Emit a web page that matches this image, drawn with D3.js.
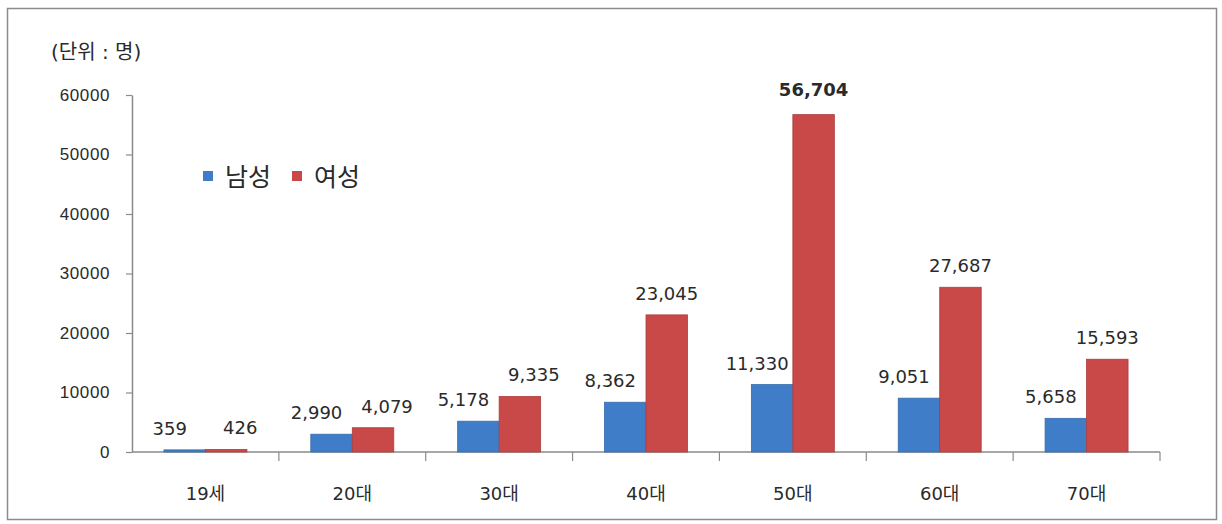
<!DOCTYPE html>
<html>
  <head>
    <meta charset="utf-8">
    <style>
      body {
        margin:0;
        background:#fff;
        font-family:"DejaVu Sans", "Noto Sans CJK KR", sans-serif;
      }
      .axis .domain {
        stroke:#8a8a8a;
        stroke-width:1.5;
      }
      .axis .tick line {
        stroke:#8a8a8a;
        stroke-width:1.2;
      }
      .axis .tick text {
        fill:#2a2a2a;
      }
      .label {
        fill:#2a2a2a;
        font-size:18px;
        text-anchor:middle;
      }
    </style>
  </head>
  <body>
    <div class="graph"></div>
    <script src="https://cdn.jsdelivr.net/npm/d3@7"></script>
    <script>
      var categories = ["19세", "20대", "30대", "40대", "50대", "60대", "70대"];
      var seriesNames = ["남성", "여성"];
      var male = [359, 2990, 5178, 8362, 11330, 9051, 5658];
      var female = [426, 4079, 9335, 23045, 56704, 27687, 15593];
      var yTicks = [0, 10000, 20000, 30000, 40000, 50000, 60000];
      var colors = ["#3f7dc8", "#c94848"];

      var width = 1222;
      var height = 524;

      var svg = d3.select(".graph").append("svg")
        .attr("width", width)
        .attr("height", height);

      // outer frame
      svg.append("rect")
        .attr("x", 7.5)
        .attr("y", 8.5)
        .attr("width", 1209)
        .attr("height", 511)
        .attr("fill", "none")
        .attr("stroke", "#8c8c8c")
        .attr("stroke-width", 1.5);

      var x0 = d3.scaleBand()
        .domain(categories)
        .range([132, 1160])
        .paddingInner(0.435)
        .paddingOuter(0.2175);

      var x1 = d3.scaleBand()
        .domain(seriesNames)
        .range([0, x0.bandwidth()]);

      var y = d3.scaleLinear()
        .domain([0, 60000])
        .range([452, 95]);

      // y axis
      var yAxis = svg.append("g")
        .attr("class", "axis")
        .attr("transform", "translate(132,0)")
        .call(d3.axisLeft(y).tickValues(yTicks).tickSize(6).tickPadding(16).tickFormat(d3.format("d")).tickSizeOuter(0));
      yAxis.selectAll(".tick text")
        .style("font-size", "17px")
        .style("letter-spacing", "0.6px");

      // x axis with ticks between categories
      var xAxis = svg.append("g")
        .attr("class", "axis")
        .attr("transform", "translate(0," + y(0) + ")");
      xAxis.append("line")
        .attr("class", "domain")
        .attr("x1", 132)
        .attr("x2", 1160);
      var step = x0.step();
      var bounds = d3.range(categories.length + 1).map(function (i) {
        return 132 + i * step;
      });
      xAxis.selectAll(".xtick")
        .data(bounds.slice(1))
        .enter().append("line")
        .attr("class", "xtick")
        .attr("x1", function (d) { return d; })
        .attr("x2", function (d) { return d; })
        .attr("y1", 0)
        .attr("y2", 9)
        .attr("stroke", "#8a8a8a")
        .attr("stroke-width", 1.2);
      xAxis.selectAll(".xlab")
        .data(categories)
        .enter().append("text")
        .attr("class", "xlab")
        .attr("x", function (d) { return x0(d) + x0.bandwidth() / 2; })
        .attr("y", 48)
        .attr("text-anchor", "middle")
        .attr("fill", "#2a2a2a")
        .style("font-size", "18px")
        .text(function (d) { return d; });

      // bars
      var rows = categories.map(function (c, i) {
        return {cat:c, values:[male[i], female[i]]};
      });

      var groups = svg.append("g").selectAll("g")
        .data(rows)
        .enter().append("g")
        .attr("transform", function (d) { return "translate(" + x0(d.cat) + ",0)"; });

      groups.selectAll("rect")
        .data(function (d) {
          return d.values.map(function (v, k) { return {name:seriesNames[k], value:v, k:k}; });
        })
        .enter().append("rect")
        .attr("x", function (d) { return x1(d.name); })
        .attr("width", x1.bandwidth())
        .attr("y", function (d) { return y(d.value); })
        .attr("height", function (d) { return y(0) - y(d.value); })
        .attr("fill", function (d) { return colors[d.k]; })
        .attr("stroke", function (d) { return d3.color(colors[d.k]).darker(0.4); })
        .attr("stroke-width", 0.8);

      // value labels
      var fmt = d3.format(",");
      var maxVal = d3.max(female);
      groups.each(function (d) {
        var g = d3.select(this);
        var close = Math.abs(y(d.values[0]) - y(d.values[1])) < 30;
        d.values.forEach(function (v, k) {
          var cx = x1(seriesNames[k]) + x1.bandwidth() / 2;
          var dx = k === 0 ? -15 : (close ? 14 : 0);
          g.append("text")
            .attr("class", "label")
            .attr("x", cx + dx)
            .attr("y", y(v) - (v === maxVal ? 19 : 15))
            .style("font-weight", v === maxVal ? "bold" : "normal")
            .text(fmt(v));
        });
      });

      // unit caption
      svg.append("text")
        .attr("x", 51)
        .attr("y", 59)
        .attr("fill", "#2a2a2a")
        .style("font-size", "20px")
        .text("(단위 : 명)");

      // legend
      var legend = svg.append("g").attr("transform", "translate(203,171)");
      var legendX = [0, 89];
      seriesNames.forEach(function (name, k) {
        legend.append("rect")
          .attr("x", legendX[k])
          .attr("y", 0)
          .attr("width", 10)
          .attr("height", 10)
          .attr("fill", colors[k]);
        legend.append("text")
          .attr("x", legendX[k] + 22)
          .attr("y", 15)
          .attr("fill", "#2a2a2a")
          .style("font-family", "'Noto Sans CJK KR', sans-serif")
          .style("font-size", "25px")
          .text(name);
      });
    </script>
  </body>
</html>
